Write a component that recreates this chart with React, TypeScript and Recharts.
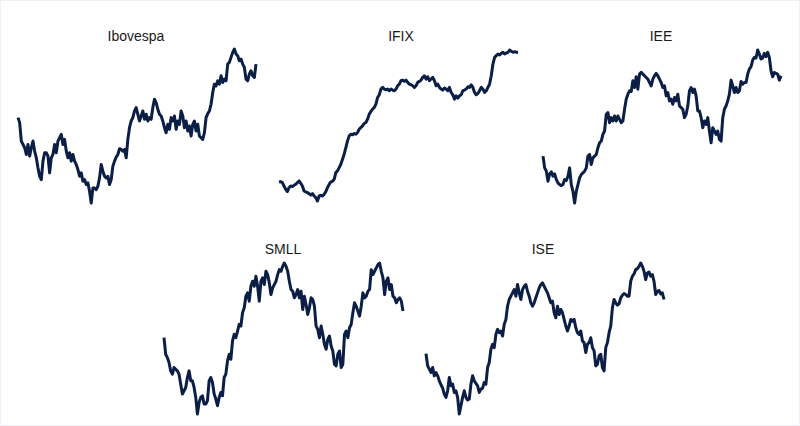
import React from "react";
import { LineChart, Line, XAxis, YAxis } from "recharts";

// Relative index levels (unitless)
const ibovespa = [
  310, 295, 240, 230, 220, 200, 230, 195, 220, 240, 210, 190, 160, 135, 125, 180, 205, 205, 195, 145,
  190, 200, 230, 205, 240, 250, 260, 230, 245, 210, 190, 205, 180, 200, 180, 170, 155, 135, 145, 120,
  125, 110, 115, 90, 55, 100, 100, 95, 105, 130, 170, 150, 135, 130, 135, 110, 125, 165, 180, 192,
  200, 217, 215, 210, 215, 190, 245, 280, 300, 310, 330, 340, 320, 300, 315, 330, 305, 320, 300, 310,
  305, 340, 365, 355, 335, 320, 315, 300, 280, 265, 290, 275, 310, 300, 315, 275, 300, 290, 330, 315,
  280, 300, 270, 285, 255, 290, 300, 270, 290, 255, 250, 245, 265, 310, 322, 330, 350, 385, 410, 405,
  420, 410, 435, 415, 425, 420, 470, 475, 490, 505, 515, 500, 495, 480, 485, 470, 460, 425, 420, 440,
  450, 435, 430, 470,
];

const ifix = [
  117, 118, 115, 105, 95, 88, 100, 105, 103, 107, 110, 115, 120, 113, 105, 90, 87, 85, 82, 78,
  82, 75, 70, 60, 75, 77, 75, 80, 88, 100, 110, 117, 119, 125, 145, 150, 160, 170, 185, 200,
  220, 240, 255, 260, 258, 262, 260, 265, 275, 280, 285, 292, 295, 305, 320, 328, 335, 340, 350, 370,
  378, 395, 400, 395, 393, 395, 390, 395, 392, 390, 395, 405, 410, 420, 422, 418, 422, 415, 410, 408,
  405, 400, 405, 415, 418, 422, 430, 435, 425, 432, 420, 425, 430, 420, 405, 410, 400, 395, 392, 398,
  395, 390, 400, 385, 378, 365, 375, 368, 375, 378, 390, 392, 395, 402, 400, 408, 400, 385, 378, 382,
  390, 400, 395, 385, 390, 400, 410, 435, 470, 490, 495, 500, 497, 502, 505, 500, 503, 505, 512, 508,
  505, 507, 505, 505,
];

const iee = [
  195, 160, 150, 120, 142, 148, 135, 142, 125, 115, 110, 107, 110, 125, 122, 135, 160, 110, 90, 55,
  90, 110, 130, 140, 145, 150, 160, 195, 200, 170, 190, 195, 200, 220, 235, 240, 260, 270, 320, 325,
  295, 310, 300, 315, 300, 315, 305, 295, 300, 335, 365, 380, 390, 388, 420, 400, 432, 395, 440, 445,
  440, 435, 430, 425, 415, 405, 425, 435, 442, 435, 425, 415, 400, 405, 375, 385, 360, 365, 350, 370,
  360, 380, 345, 340, 335, 310, 320, 345, 390, 400, 385, 395, 375, 330, 330, 310, 280, 300, 290, 310,
  270, 235, 280, 270, 260, 270, 245, 240, 310, 335, 345, 360, 380, 422, 405, 385, 400, 385, 390, 418,
  410, 415, 415, 440, 455, 462, 482, 490, 488, 512, 500, 485, 488, 502, 492, 505, 490, 450, 432, 445,
  442, 440, 422, 435,
];

const smll = [
  280, 230, 220, 205, 180, 170, 190, 185, 180, 170, 140, 110, 120, 130, 160, 180, 150, 150, 130, 100,
  50, 85, 100, 105, 80, 80, 90, 150, 160, 145, 110, 95, 75, 100, 115, 105, 160, 170, 210, 230,
  215, 270, 290, 280, 300, 320, 315, 355, 370, 405, 415, 390, 435, 450, 435, 465, 435, 390, 450, 460,
  440, 480, 470, 445, 410, 430, 440, 450, 470, 485, 480, 495, 505, 495, 480, 450, 425, 420, 400, 410,
  425, 400, 420, 365, 405, 380, 350, 370, 400, 395, 375, 315, 305, 280, 315, 290, 260, 245, 275, 285,
  255, 240, 200, 195, 230, 240, 190, 200, 290, 300, 280, 310, 320, 355, 385, 375, 360, 345, 375, 415,
  400, 405, 420, 425, 485, 470, 480, 490, 500, 505, 480, 460, 410, 450, 460, 425, 440, 405, 400, 385,
  395, 400, 390, 360,
];

const ise = [
  232, 195, 185, 175, 190, 165, 175, 165, 150, 138, 128, 110, 100, 120, 160, 135, 140, 115, 120, 100,
  50, 75, 100, 120, 100, 92, 95, 140, 165, 150, 142, 135, 115, 125, 128, 145, 140, 190, 205, 245,
  260, 250, 290, 305, 295, 300, 285, 320, 335, 375, 395, 405, 415, 425, 405, 440, 415, 395, 425, 435,
  440, 420, 405, 385, 375, 385, 400, 415, 430, 440, 445, 435, 425, 415, 400, 385, 390, 355, 340, 375,
  350, 365, 355, 335, 315, 300, 315, 335, 330, 335, 310, 295, 290, 300, 270, 265, 235, 260, 265, 280,
  250, 240, 195, 200, 225, 230, 190, 180, 250, 265, 295, 315, 370, 395, 385, 378, 382, 400, 408, 413,
  410, 405, 405, 450, 465, 472, 485, 488, 495, 505, 495, 480, 455, 475, 478, 465, 470, 450, 410, 420,
  422, 412, 415, 395,
];

const titles = ["Ibovespa", "IFIX", "IEE", "SMLL", "ISE"];
const seriesList = [ibovespa, ifix, iee, smll, ise];

// layout: [lineLeft, lineRight, lineTop, lineBottom, titleCenterX, titleBaseline]
const layout = [
  [17, 255, 48, 202, 135, 39.5],
  [278, 517, 49, 200, 400, 39.5],
  [542, 780, 49, 202, 660, 39.5],
  [163, 402, 262, 413, 282, 252.5],
  [425, 663, 262, 413, 542, 252.5],
];

const LINE_COLOR = "#0b1e45";
const PAD = 3;

function Panel({ values, box }: { values: number[]; box: number[] }) {
  const [l, r, t, b] = box;
  const data = values.map((v, i) => ({ i, v }));
  return (
    <div
      style={{
        position: "absolute",
        left: l - PAD,
        top: t - PAD,
        width: r - l + 2 * PAD,
        height: b - t + 2 * PAD,
      }}
    >
      <LineChart
        width={r - l + 2 * PAD}
        height={b - t + 2 * PAD}
        data={data}
        margin={{ top: PAD, right: PAD, bottom: PAD, left: PAD }}
      >
        <XAxis dataKey="i" hide type="number" domain={["dataMin", "dataMax"]} />
        <YAxis hide domain={["dataMin", "dataMax"]} />
        <Line
          type="linear"
          dataKey="v"
          stroke={LINE_COLOR}
          strokeWidth={3}
          dot={false}
          isAnimationActive={false}
          strokeLinejoin="round"
        />
      </LineChart>
    </div>
  );
}

export default function App() {
  return (
    <div
      style={{
        position: "absolute",
        left: 0,
        top: 0,
        width: 800,
        height: 426,
        background: "#fff",
        overflow: "hidden",
        boxSizing: "border-box",
        border: "1px solid #eef2f8",
        fontFamily: "'Liberation Sans', Arial, sans-serif",
      }}
    >
      {seriesList.map((s, k) => (
        <Panel key={titles[k]} values={s} box={layout[k]} />
      ))}
      {titles.map((t, k) => (
        <div
          key={t}
          style={{
            position: "absolute",
            left: layout[k][4] - 60,
            width: 120,
            top: layout[k][5] - 11.85,
            height: 14,
            lineHeight: "14px",
            fontSize: 14,
            textAlign: "center",
            color: "#1a1a1a",
          }}
        >
          {t}
        </div>
      ))}
    </div>
  );
}
